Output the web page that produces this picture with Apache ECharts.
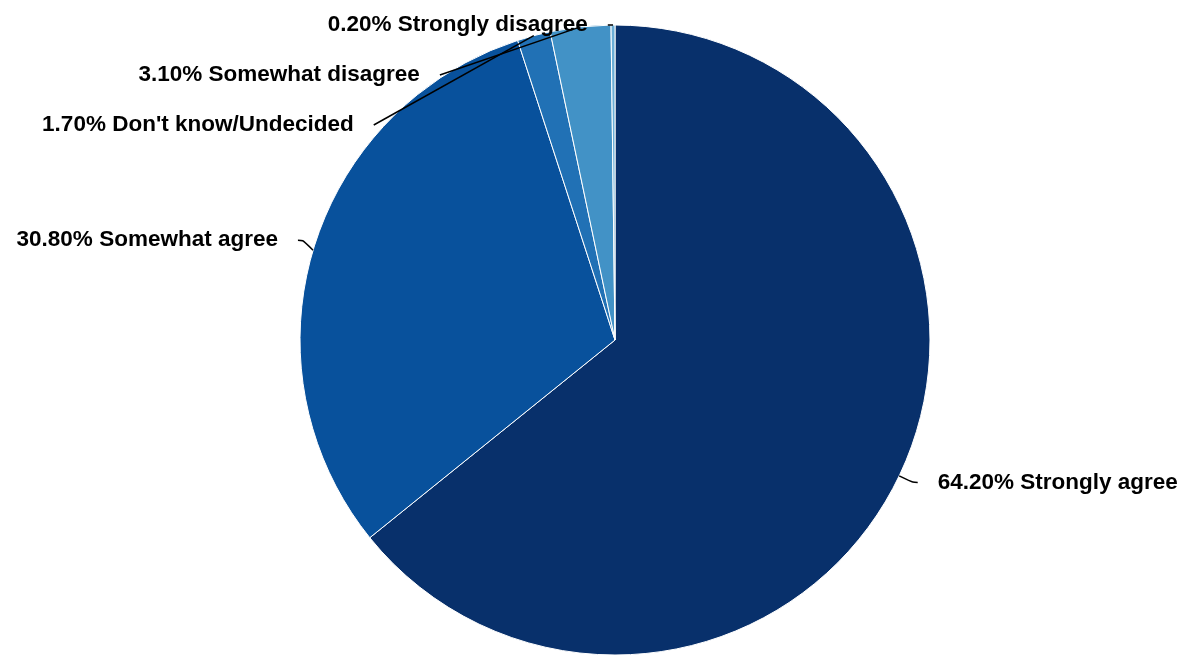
<!DOCTYPE html>
<html><head><meta charset="utf-8">
<script src="https://cdn.jsdelivr.net/npm/echarts@6/dist/echarts.min.js"></script>
<style>html,body{margin:0;padding:0;background:#fff}#c{width:1189px;height:656px}</style>
</head><body><div id="c"></div>
<script>
const categories = ["Strongly agree", "Somewhat agree", "Don't know/Undecided", "Somewhat disagree", "Strongly disagree"];
const values = [64.2, 30.8, 1.7, 3.1, 0.2];
const colors = ["#08306b", "#08519c", "#2171b5", "#4292c6", "#6baed6"];

const pieData = categories.map((n, i) => ({name: n, value: values[i]}));
const labelData = categories.map((n, i) => {
  const d = {name: n, value: values[i]};
  if (i === 0) d.labelLine = {length: 15, length2: 5};
  return d;
});

const chart = echarts.init(document.getElementById('c'), null, {renderer: 'canvas'});
chart.setOption({
  animation: false,
  color: colors,
  series: [{
    type: 'pie',
    z: 2,
    center: [615, 340],
    radius: 315,
    startAngle: 90,
    clockwise: true,
    itemStyle: {borderColor: '#ffffff', borderWidth: 1},
    label: {show: false},
    labelLine: {show: false},
    data: pieData
  }, {
    type: 'pie',
    z: 5,
    silent: true,
    center: [615, 340],
    radius: 315,
    startAngle: 90,
    clockwise: true,
    itemStyle: {color: 'rgba(0,0,0,0)', borderWidth: 0},
    label: {
      show: true,
      position: 'outside',
      color: '#000',
      fontFamily: 'Liberation Sans, Arial, sans-serif',
      fontWeight: 'bold',
      fontSize: 22.5,
      minMargin: 27,
      bleedMargin: 0,
      distanceToLabelLine: 20,
      formatter: p => p.value.toFixed(2) + '% ' + p.name
    },
    labelLine: {show: true, length: 35, length2: 5, smooth: true, lineStyle: {color: '#000', width: 1.5}},
    data: labelData
  }]
});
</script></body></html>
